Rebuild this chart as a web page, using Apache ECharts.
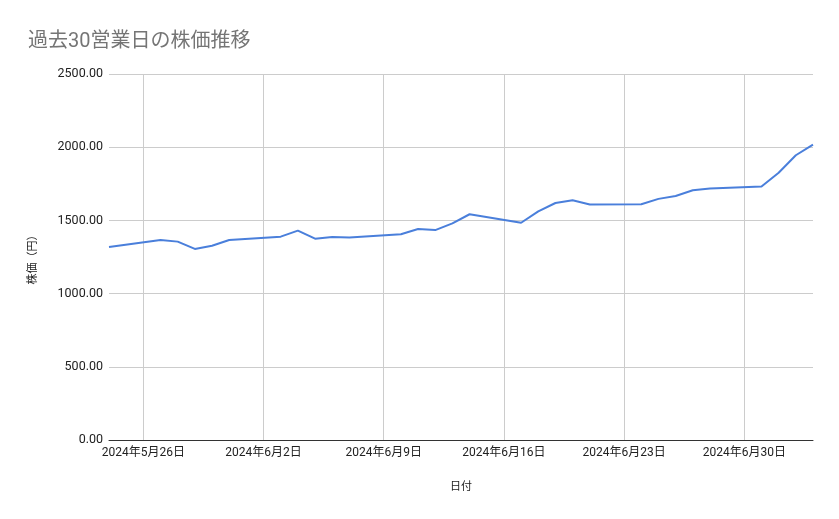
<!DOCTYPE html>
<html>
<head>
<meta charset="utf-8">
<script src="https://cdn.jsdelivr.net/npm/echarts@6/dist/echarts.min.js"></script>
<style>
  html, body { margin: 0; padding: 0; background: #fff; }
  #chart { width: 839px; height: 519px; }
</style>
</head>
<body>
<div id="chart"></div>
<script>
// 30 business days
const dates = [
  '2024-05-24', '2024-05-27', '2024-05-28', '2024-05-29', '2024-05-30', '2024-05-31',
  '2024-06-03', '2024-06-04', '2024-06-05', '2024-06-06', '2024-06-07',
  '2024-06-10', '2024-06-11', '2024-06-12', '2024-06-13', '2024-06-14',
  '2024-06-17', '2024-06-18', '2024-06-19', '2024-06-20', '2024-06-21',
  '2024-06-24', '2024-06-25', '2024-06-26', '2024-06-27', '2024-06-28',
  '2024-07-01', '2024-07-02', '2024-07-03', '2024-07-04'
];
const prices = [
  1318, 1366, 1355, 1305, 1327, 1366,
  1389, 1430, 1375, 1387, 1384,
  1405, 1441, 1434, 1480, 1542,
  1484, 1562, 1619, 1638, 1608,
  1610, 1647, 1667, 1706, 1718,
  1732, 1826, 1945, 2018
];
const xStart = '2024-05-24';
const xEnd = '2024-07-04';
const weekTicks = ['2024-05-26', '2024-06-02', '2024-06-09', '2024-06-16', '2024-06-23', '2024-06-30'];
const yTicks = [0, 500, 1000, 1500, 2000, 2500];

// x is counted in days from the first weekly tick (Sunday 5/26)
const DAY = 86400000;
const base = Date.parse(weekTicks[0] + 'T00:00:00Z');
const toX = s => Math.round((Date.parse(s + 'T00:00:00Z') - base) / DAY);
const fmtDate = d => {
  const t = new Date(base + d * DAY);
  return t.getUTCFullYear() + '年' + (t.getUTCMonth() + 1) + '月' + t.getUTCDate() + '日';
};
const weekSet = new Set(weekTicks.map(toX));

const chart = echarts.init(document.getElementById('chart'));
const font = 'Roboto, "Noto Sans CJK JP", sans-serif';

chart.setOption({
  animation: false,
  title: {
    text: '過去30営業日の株価推移',
    left: 23,
    top: 27,
    textStyle: { color: '#757575', fontSize: 20, fontWeight: 'normal', fontFamily: font },
  },
  grid: { left: 109, right: 26, top: 74, bottom: 79 },
  xAxis: {
    type: 'value',
    min: toX(xStart),
    max: toX(xEnd),
    interval: 1,
    name: '日付',
    nameLocation: 'middle',
    nameGap: 42,
    nameTextStyle: { color: '#222', fontSize: 11, fontFamily: font },
    axisLine: { show: true, onZero: false, lineStyle: { color: '#333', width: 1 } },
    axisTick: { show: false },
    splitLine: { show: false },
    axisLabel: {
      color: '#222',
      fontSize: 12,
      fontFamily: font,
      margin: 7,
      showMinLabel: true,
      showMaxLabel: true,
      formatter: v => (weekSet.has(v) ? fmtDate(v) : ''),
    },
  },
  yAxis: {
    type: 'value',
    min: yTicks[0],
    max: yTicks[yTicks.length - 1],
    interval: 500,
    name: '株価（円）',
    nameLocation: 'middle',
    nameGap: 70,
    nameTextStyle: { color: '#222', fontSize: 11, fontFamily: font },
    axisLine: { show: false },
    axisTick: { show: false },
    axisLabel: { color: '#222', fontSize: 12.5, fontFamily: font, margin: 6, formatter: v => v.toFixed(2) },
    splitLine: { lineStyle: { color: '#cccccc', width: 1 } },
  },
  series: [{
    type: 'line',
    data: dates.map((d, i) => [toX(d), prices[i]]),
    showSymbol: false,
    lineStyle: { color: '#4a7fdb', width: 2 },
    itemStyle: { color: '#4a7fdb' },
    z: 3,
    markLine: {
      silent: true,
      symbol: ['none', 'none'],
      label: { show: false },
      lineStyle: { color: '#cccccc', width: 1, type: 'solid' },
      z: 1,
      data: weekTicks.map(d => ({ xAxis: toX(d) })),
    },
  }],
});
</script>
</body>
</html>
